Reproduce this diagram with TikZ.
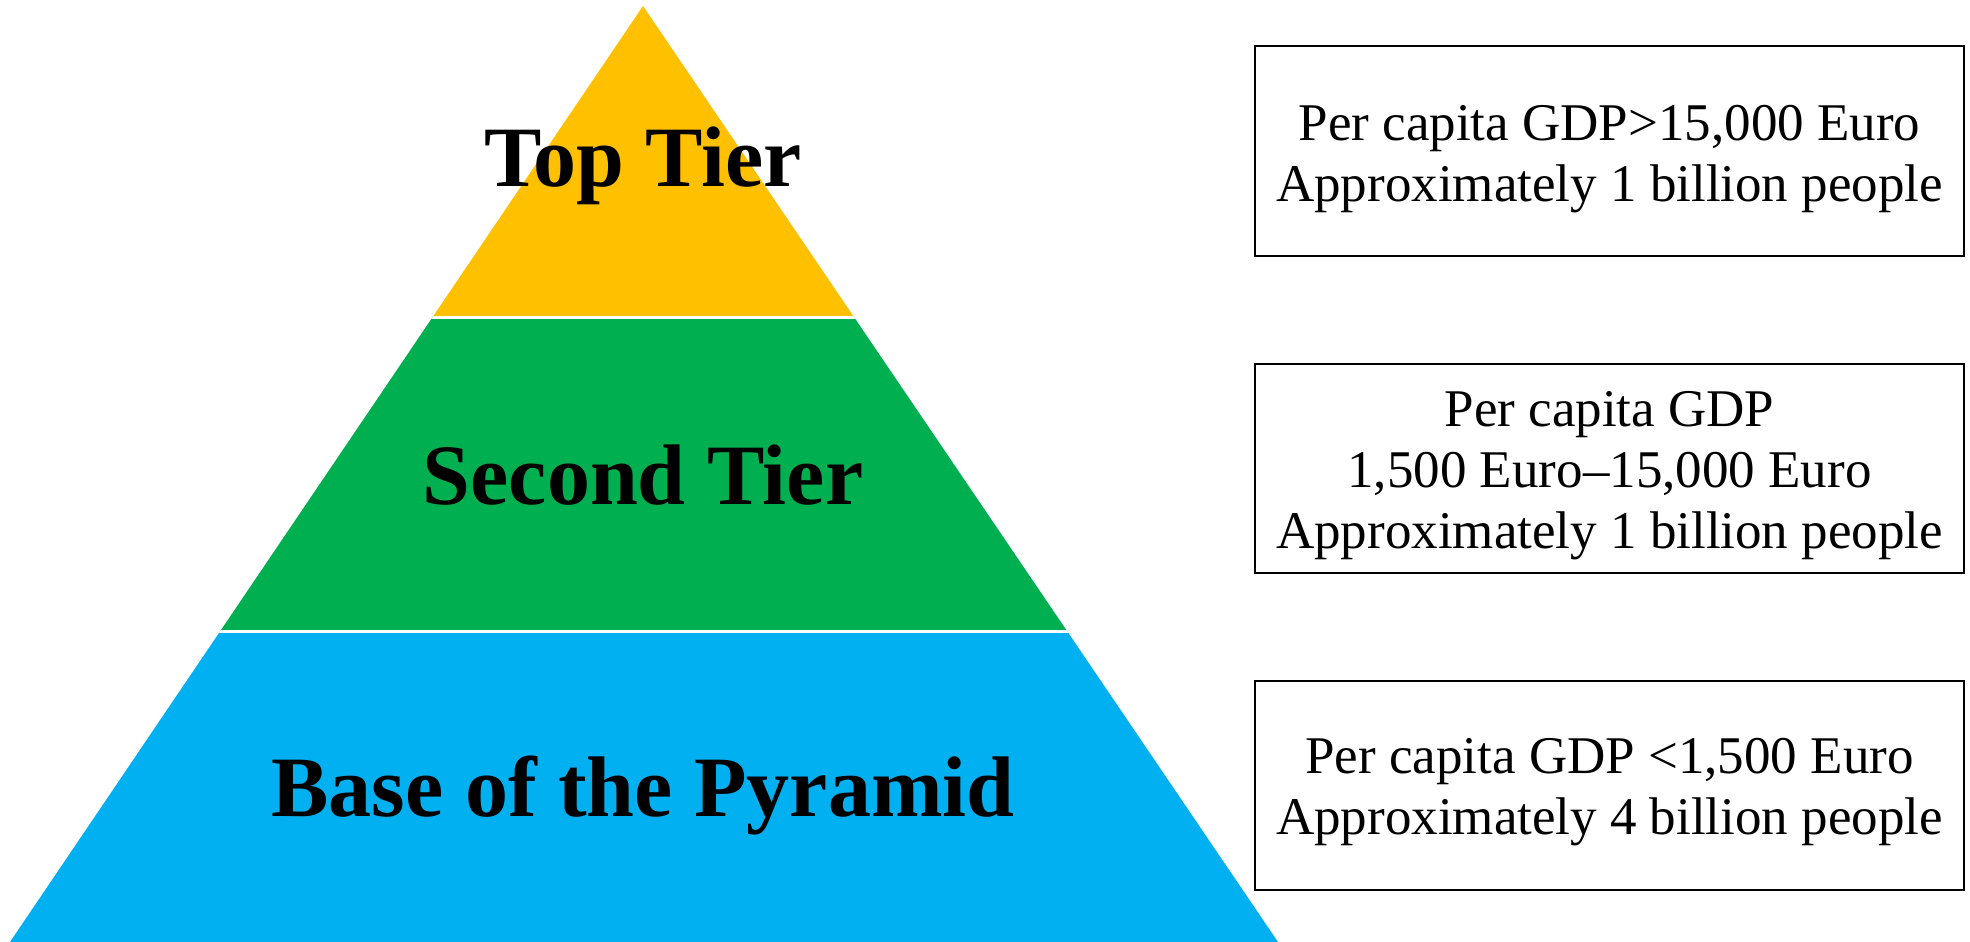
\documentclass[tikz,border=0pt]{standalone}
\usepackage{fontspec}
\setmainfont{Liberation Serif}
\definecolor{tieryellow}{HTML}{FFC000}
\definecolor{tiergreen}{HTML}{00B050}
\definecolor{tierblue}{HTML}{00B0F0}
\begin{document}
\begin{tikzpicture}[x=1pt,y=-1pt,
  tierlabel/.style={anchor=base,inner sep=0pt,font=\fontsize{86}{90}\selectfont\bfseries},
  infobox/.style={draw=black,line width=2pt,minimum width=709pt,minimum height=210pt,
    inner sep=0pt,align=center,font=\fontsize{53}{61}\selectfont}]
\useasboundingbox (0,0) rectangle (1970,942);
% pyramid
\begin{scope}
  \clip (643,6) -- (1278,942) -- (10,942) -- cycle;
  \fill[tieryellow] (0,0) rectangle (1970,317);
  \fill[tiergreen] (0,317) rectangle (1970,631);
  \fill[tierblue] (0,631) rectangle (1970,942);
  \draw[white,line width=3pt] (0,317) -- (1970,317);
  \draw[white,line width=3pt] (0,631) -- (1970,631);
\end{scope}
\node[tierlabel] (top) at (643,186) {Top Tier};
\node[tierlabel] (second) at (643,504) {Second Tier};
\node[tierlabel] (base) at (643,816) {Base of the Pyramid};
% boxes
\node[draw=black,line width=2pt,minimum width=709pt,minimum height=210pt] (box1) at (1609.5,151) {};
\node[draw=black,line width=2pt,minimum width=709pt,minimum height=209pt] (box2) at (1609.5,468.5) {};
\node[draw=black,line width=2pt,minimum width=709pt,minimum height=209pt] (box3) at (1609.5,785.5) {};
\node[align=center,inner sep=0pt,font=\fontsize{53}{61}\selectfont] (text1) at ([yshift=-8pt]box1.center) {Per capita GDP>15,000 Euro\\Approximately 1 billion people};
\node[align=center,inner sep=0pt,font=\fontsize{53}{61}\selectfont] (text2) at ([yshift=-7pt]box2.center) {Per capita GDP\\1,500 Euro--15,000 Euro\\Approximately 1 billion people};
\node[align=center,inner sep=0pt,font=\fontsize{53}{61}\selectfont] (text3) at ([yshift=-7pt]box3.center) {Per capita GDP <1,500 Euro\\Approximately 4 billion people};
\end{tikzpicture}
\end{document}
